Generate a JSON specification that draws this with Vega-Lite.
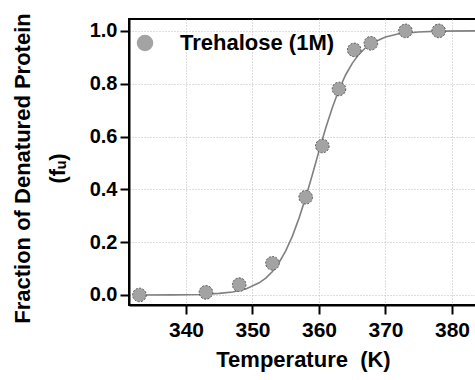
{
  "$schema": "https://vega.github.io/schema/vega-lite/v6.json",
  "autosize": "none",
  "width": 348,
  "height": 286,
  "padding": {"left": 129, "top": 19, "right": 0, "bottom": 75},
  "background": "white",
  "config": {
    "font": "Liberation Sans",
    "view": {"stroke": "black", "strokeWidth": 2},
    "axis": {
      "labelFont": "Liberation Sans",
      "labelFontWeight": "bold",
      "labelColor": "black",
      "titleFont": "Liberation Sans",
      "titleFontWeight": "bold",
      "titleColor": "black",
      "domainColor": "black",
      "domainWidth": 2,
      "tickColor": "black",
      "tickWidth": 2,
      "tickSize": 9,
      "labelPadding": 2,
      "gridColor": "#bbbbbb",
      "gridDash": [1, 2],
      "gridWidth": 1
    }
  },
  "datasets": {
    "points": [
      {"T": 333, "fu": 0.0},
      {"T": 343, "fu": 0.01},
      {"T": 348, "fu": 0.039},
      {"T": 353, "fu": 0.12},
      {"T": 358, "fu": 0.37},
      {"T": 360.5, "fu": 0.564},
      {"T": 363, "fu": 0.78},
      {"T": 365.3, "fu": 0.928},
      {"T": 367.8, "fu": 0.953},
      {"T": 373, "fu": 1.0},
      {"T": 378, "fu": 1.0}
    ],
    "curve": [
      {"T": 333, "fu": 0.0001},
      {"T": 338, "fu": 0.0005},
      {"T": 342, "fu": 0.002},
      {"T": 345, "fu": 0.006},
      {"T": 347, "fu": 0.011},
      {"T": 349, "fu": 0.023},
      {"T": 351, "fu": 0.046},
      {"T": 352, "fu": 0.064},
      {"T": 353, "fu": 0.089},
      {"T": 354, "fu": 0.123},
      {"T": 355, "fu": 0.167},
      {"T": 356, "fu": 0.223},
      {"T": 357, "fu": 0.291},
      {"T": 358, "fu": 0.369},
      {"T": 359, "fu": 0.455},
      {"T": 360, "fu": 0.545},
      {"T": 361, "fu": 0.631},
      {"T": 362, "fu": 0.709},
      {"T": 363, "fu": 0.777},
      {"T": 364, "fu": 0.833},
      {"T": 365, "fu": 0.877},
      {"T": 366, "fu": 0.911},
      {"T": 367, "fu": 0.936},
      {"T": 368, "fu": 0.954},
      {"T": 370, "fu": 0.977},
      {"T": 372, "fu": 0.989},
      {"T": 375, "fu": 0.996},
      {"T": 378, "fu": 0.999},
      {"T": 383.5, "fu": 1.0}
    ]
  },
  "layer": [
    {
      "data": {"name": "curve"},
      "mark": {"type": "line", "color": "#808080", "strokeWidth": 1.6, "clip": true},
      "encoding": {
        "x": {"field": "T", "type": "quantitative",
              "scale": {"domain": [331.43, 383.76], "nice": false, "zero": false},
              "axis": {"values": [340, 350, 360, 370, 380], "title": "Temperature\u00a0\u00a0(K)",
                       "labelFontSize": 21, "titleFontSize": 22, "titlePadding": 9, "labelPadding": 5}},
        "y": {"field": "fu", "type": "quantitative",
              "scale": {"domain": [-0.038, 1.045], "nice": false, "zero": false},
              "axis": {"values": [0, 0.2, 0.4, 0.6, 0.8, 1.0], "format": ".1f",
                       "labelFontSize": 20, "titleFontSize": 22, "titleLineHeight": 35, "titleY": 149,
                       "labelPadding": 3,
                       "title": ["Fraction of Denatured Protein", "(fᵤ)"], "titlePadding": 20}}
      }
    },
    {
      "data": {"name": "points"},
      "transform": [{"calculate": "'Trehalose (1M)'", "as": "series"}],
      "mark": {"type": "point", "shape": "circle", "filled": true, "size": 185, "opacity": 1,
               "fill": "#a3a3a3", "stroke": "#555555", "strokeWidth": 1, "strokeDash": [2, 1.5]},
      "encoding": {
        "x": {"field": "T", "type": "quantitative"},
        "y": {"field": "fu", "type": "quantitative"},
        "color": {"field": "series", "type": "nominal",
                  "scale": {"range": ["#a3a3a3"]},
                  "legend": {"orient": "none", "legendX": 5, "legendY": 13, "title": null,
                             "labelFont": "Liberation Sans", "labelFontWeight": "bold", "labelFontSize": 22,
                             "labelColor": "black", "symbolSize": 225, "symbolType": "circle",
                             "symbolFillColor": "#a3a3a3", "symbolStrokeColor": "#a3a3a3", "symbolOpacity": 1,
                             "labelOffset": 24}}
      }
    }
  ]
}
